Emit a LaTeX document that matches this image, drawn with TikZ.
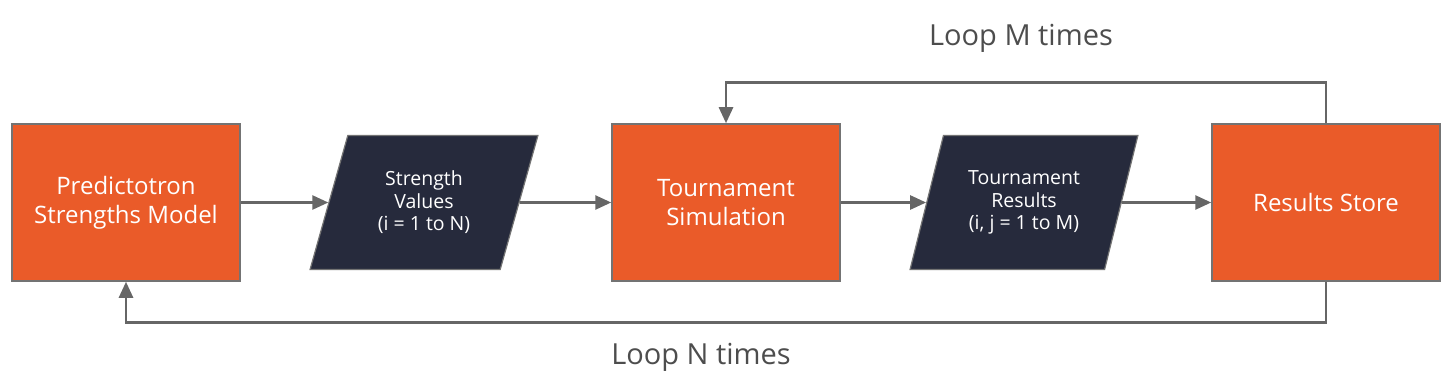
\documentclass[tikz,border=0pt]{standalone}
\usepackage{fontspec}
\setmainfont{Open Sans}
\usetikzlibrary{shapes.geometric,arrows.meta}
\definecolor{orng}{HTML}{EA5B29}
\definecolor{navy}{HTML}{262A3C}
\definecolor{edgegrey}{HTML}{737373}
\definecolor{wire}{HTML}{666666}
\definecolor{lbl}{HTML}{4D4D4D}
\begin{document}
\begin{tikzpicture}[x=1pt,y=-1pt,
 procbox/.style={draw=edgegrey,line width=1.5pt,fill=orng,minimum width=228pt,minimum height=157pt,inner sep=0pt,text=white,font=\fontsize{24}{28.7}\selectfont,align=center},
 databox/.style={trapezium,trapezium left angle=70,trapezium right angle=110,trapezium stretches=true,draw=edgegrey,line width=1.2pt,fill=navy,minimum width=228pt,minimum height=134pt,inner sep=0pt,text=white,font=\fontsize{19.5}{22.5}\selectfont,align=center},
 flow/.style={draw=wire,line width=2.6pt,-{Triangle[length=16pt,width=14pt]}},
 looplbl/.style={text=lbl,font=\fontsize{29}{34}\selectfont,inner sep=0pt}]
\useasboundingbox (0,0) rectangle (1456,385);
\node[procbox] (model) at (126,202.5) {Predictotron\\Strengths Model};
\node[databox] (strength) at (424,202.5) {Strength\\Values\\(i = 1 to N)};
\node[procbox] (sim) at (726,202.5) {Tournament\\Simulation};
\node[databox] (results) at (1024,202.5) {Tournament\\Results\\(i, j = 1 to M)};
\node[procbox] (store) at (1326,202.5) {Results Store};
\draw[flow] (model) -- (strength);
\draw[flow] (strength) -- (sim);
\draw[flow] (sim) -- (results);
\draw[flow] (results) -- (store);
\draw[flow] (store.north) -- ++(0,-41) -| (sim.north);
\draw[flow] (store.south) -- ++(0,41) -| (model.south);
\node[looplbl,anchor=base] (loopm) at (1021,46) {Loop M times};
\node[looplbl,anchor=base] (loopn) at (701,364) {Loop N times};
\end{tikzpicture}
\end{document}
